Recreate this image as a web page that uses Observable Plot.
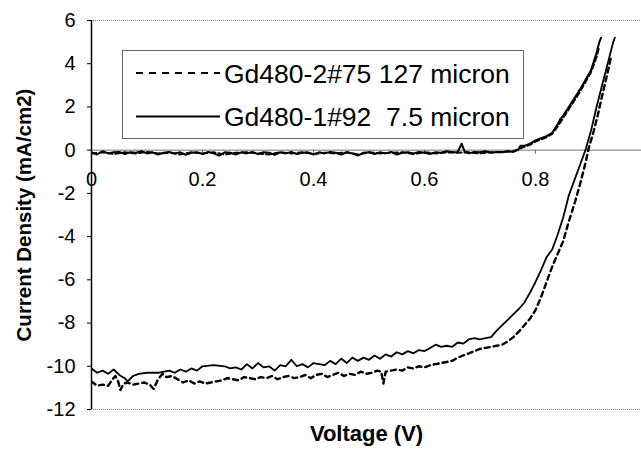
<!DOCTYPE html>
<html>
<head>
<meta charset="utf-8">
<script src="https://cdn.jsdelivr.net/npm/d3@7"></script>
<script src="https://cdn.jsdelivr.net/npm/@observablehq/plot@0.6"></script>
<style>
  html, body { margin: 0; padding: 0; background: #fff; }
  #wrap { position: relative; width: 641px; height: 453px; font-family: "Liberation Sans", Arial, sans-serif; }
  #legend { position: absolute; left: 122px; top: 50px; width: 400px; height: 87px; border: 1px solid #666; background: #fff; }
  #legend svg { position: absolute; left: 0; top: 0; }
</style>
</head>
<body>
<div id="wrap"><div id="legend"></div></div>
<script>
// Series names (legend)
const seriesNames = ["Gd480-2#75 127 micron", "Gd480-1#92  7.5 micron"];
const xTickValues = [0, 0.2, 0.4, 0.6, 0.8];
const xTickLabels = ["0", "0.2", "0.4", "0.6", "0.8"];
const yTickValues = [-12, -10, -8, -6, -4, -2, 0, 2, 4, 6];
const xLabel = "Voltage (V)";
const yLabel = "Current Density (mA/cm2)";

// 127 micron sample, illuminated [V, mA/cm2]
const light127 = [[0,-10.7],[0.01,-10.9],[0.02,-10.85],[0.03,-10.9],[0.038,-10.6],[0.043,-10.45],[0.048,-10.7],[0.052,-11.1],[0.058,-10.8],[0.065,-10.75],[0.075,-10.85],[0.085,-10.8],[0.095,-10.75],[0.105,-10.85],[0.112,-11.05],[0.12,-10.6],[0.128,-10.35],[0.135,-10.5],[0.145,-10.45],[0.155,-10.6],[0.165,-10.75],[0.175,-10.65],[0.185,-10.8],[0.195,-10.7],[0.205,-10.8],[0.215,-10.75],[0.225,-10.7],[0.235,-10.65],[0.245,-10.55],[0.255,-10.6],[0.265,-10.65],[0.275,-10.5],[0.285,-10.55],[0.295,-10.6],[0.305,-10.5],[0.315,-10.55],[0.325,-10.45],[0.335,-10.6],[0.345,-10.5],[0.355,-10.45],[0.365,-10.55],[0.375,-10.5],[0.385,-10.4],[0.395,-10.55],[0.405,-10.4],[0.415,-10.35],[0.425,-10.5],[0.435,-10.4],[0.445,-10.3],[0.455,-10.45],[0.465,-10.35],[0.475,-10.4],[0.485,-10.25],[0.495,-10.35],[0.505,-10.3],[0.515,-10.2],[0.522,-10.25],[0.526,-10.8],[0.53,-10.25],[0.54,-10.2],[0.55,-10.15],[0.56,-10.2],[0.57,-10.05],[0.58,-10.1],[0.59,-10.0],[0.6,-10.05],[0.61,-9.95],[0.62,-9.9],[0.63,-9.85],[0.64,-9.8],[0.65,-9.75],[0.66,-9.6],[0.67,-9.5],[0.68,-9.4],[0.69,-9.3],[0.7,-9.2],[0.71,-9.15],[0.72,-9.1],[0.73,-9.05],[0.74,-9.0],[0.75,-8.85],[0.76,-8.65],[0.77,-8.4],[0.78,-8.1],[0.79,-7.8],[0.8,-7.4],[0.81,-6.8],[0.82,-6.1],[0.83,-5.4],[0.84,-4.8],[0.85,-4.2],[0.86,-3.3],[0.87,-2.5],[0.88,-1.6],[0.89,-0.6],[0.895,0.0],[0.905,0.9],[0.912,1.6],[0.92,2.5],[0.93,3.6],[0.936,4.3]];

// 7.5 micron sample, illuminated [V, mA/cm2]
const light75 = [[0,-10.1],[0.01,-10.3],[0.02,-10.2],[0.03,-10.35],[0.04,-10.15],[0.05,-10.4],[0.06,-10.55],[0.065,-10.7],[0.075,-10.45],[0.085,-10.35],[0.1,-10.3],[0.12,-10.3],[0.14,-10.2],[0.15,-10.3],[0.16,-10.15],[0.17,-10.25],[0.18,-10.1],[0.19,-10.2],[0.2,-10.0],[0.22,-9.95],[0.24,-10.0],[0.25,-10.1],[0.26,-10.05],[0.27,-10.15],[0.28,-9.9],[0.29,-10.1],[0.3,-9.85],[0.31,-10.05],[0.32,-10.0],[0.33,-10.2],[0.34,-9.95],[0.35,-10.0],[0.36,-9.7],[0.37,-10.0],[0.38,-9.9],[0.39,-10.05],[0.4,-9.85],[0.41,-9.9],[0.42,-9.95],[0.43,-9.75],[0.44,-9.9],[0.45,-9.65],[0.46,-9.85],[0.47,-9.6],[0.48,-9.75],[0.49,-9.6],[0.5,-9.7],[0.51,-9.5],[0.52,-9.65],[0.53,-9.45],[0.54,-9.55],[0.55,-9.35],[0.56,-9.45],[0.57,-9.3],[0.58,-9.4],[0.59,-9.25],[0.6,-9.3],[0.61,-9.15],[0.62,-9.0],[0.63,-9.1],[0.64,-9.05],[0.65,-9.1],[0.66,-8.9],[0.67,-8.95],[0.68,-8.75],[0.69,-8.7],[0.7,-8.75],[0.71,-8.7],[0.72,-8.65],[0.73,-8.35],[0.74,-8.1],[0.75,-7.85],[0.76,-7.6],[0.77,-7.35],[0.78,-7.05],[0.79,-6.6],[0.8,-6.1],[0.81,-5.55],[0.82,-4.95],[0.83,-4.6],[0.84,-3.9],[0.85,-3.1],[0.86,-2.1],[0.87,-1.4],[0.88,-0.7],[0.89,0.0],[0.9,0.9],[0.91,2.0],[0.92,3.0],[0.93,4.0],[0.94,5.0],[0.943,5.2]];

// dark curves [V, mA/cm2]
const dark75 = [[0,-0.1],[0.01,-0.2],[0.02,-0.05],[0.03,-0.15],[0.04,-0.1],[0.05,-0.08],[0.06,-0.18],[0.07,-0.1],[0.08,-0.12],[0.09,-0.05],[0.1,-0.15],[0.11,-0.1],[0.12,-0.2],[0.13,-0.12],[0.14,-0.08],[0.15,-0.15],[0.16,-0.1],[0.17,-0.22],[0.18,-0.12],[0.19,-0.1],[0.2,-0.18],[0.21,-0.08],[0.22,-0.15],[0.23,-0.25],[0.24,-0.1],[0.25,-0.12],[0.26,-0.2],[0.27,-0.1],[0.28,-0.15],[0.29,-0.08],[0.3,-0.18],[0.31,-0.1],[0.32,-0.12],[0.33,-0.22],[0.34,-0.1],[0.35,-0.15],[0.36,-0.08],[0.37,-0.18],[0.38,-0.12],[0.39,-0.1],[0.4,-0.2],[0.41,-0.1],[0.42,-0.15],[0.43,-0.08],[0.44,-0.12],[0.45,-0.2],[0.46,-0.1],[0.47,-0.15],[0.48,-0.25],[0.49,-0.12],[0.5,-0.1],[0.51,-0.18],[0.52,-0.1],[0.53,-0.15],[0.54,-0.08],[0.55,-0.2],[0.56,-0.12],[0.57,-0.1],[0.58,-0.15],[0.59,-0.08],[0.6,-0.12],[0.61,-0.18],[0.62,-0.1],[0.63,-0.12],[0.64,-0.05],[0.65,-0.1],[0.66,-0.08],[0.667,0.3],[0.672,-0.05],[0.68,-0.15],[0.69,-0.08],[0.7,-0.1],[0.71,-0.05],[0.72,-0.12],[0.73,-0.08],[0.74,-0.1],[0.75,-0.05],[0.76,-0.08],[0.768,0.0],[0.773,0.2],[0.78,0.2],[0.79,0.3],[0.8,0.45],[0.81,0.55],[0.82,0.65],[0.83,0.8],[0.835,1.0],[0.84,1.2],[0.845,1.45],[0.85,1.6],[0.86,2.0],[0.87,2.4],[0.88,2.8],[0.89,3.25],[0.9,3.7],[0.905,4.1],[0.91,4.5],[0.915,5.0],[0.918,5.2]];
const dark127 = [[0,-0.15],[0.02,-0.1],[0.04,-0.18],[0.06,-0.1],[0.08,-0.15],[0.1,-0.08],[0.12,-0.15],[0.14,-0.12],[0.16,-0.2],[0.18,-0.1],[0.2,-0.15],[0.22,-0.1],[0.24,-0.2],[0.26,-0.12],[0.28,-0.1],[0.3,-0.15],[0.32,-0.2],[0.34,-0.1],[0.36,-0.15],[0.38,-0.1],[0.4,-0.18],[0.42,-0.12],[0.44,-0.15],[0.46,-0.1],[0.48,-0.2],[0.5,-0.1],[0.52,-0.15],[0.54,-0.12],[0.56,-0.1],[0.58,-0.18],[0.6,-0.1],[0.62,-0.15],[0.64,-0.1],[0.66,-0.12],[0.68,-0.1],[0.7,-0.15],[0.72,-0.1],[0.74,-0.08],[0.76,-0.05],[0.77,0.05],[0.78,0.15],[0.79,0.25],[0.8,0.4],[0.81,0.5],[0.82,0.6],[0.83,0.75],[0.84,1.1],[0.85,1.5],[0.86,1.9],[0.87,2.3],[0.88,2.7],[0.89,3.15],[0.9,3.6],[0.91,4.3],[0.915,4.8]];

const font = '"Liberation Sans", Arial, sans-serif';

const chart = Plot.plot({
  width: 641,
  height: 453,
  marginLeft: 91,
  marginRight: 0,
  marginTop: 20,
  marginBottom: 44,
  style: { fontFamily: font, background: "white", overflow: "visible" },
  x: { domain: [0, 0.991] },
  y: { domain: [-12, 6] },
  marks: [
    Plot.ruleY([6, -12], { stroke: "#888", strokeWidth: 1.2, strokeDasharray: "1,1" }),
    Plot.ruleY([0], { stroke: "#777", strokeWidth: 1 }),
    Plot.ruleX(xTickValues, { x: d => d, y1: 0, y2: 0, insetBottom: -4, stroke: "#777" }),
    Plot.axisY({ ticks: yTickValues, tickSize: 4, tickPadding: 12, fontSize: 20, label: null, tickFormat: d => String(d).replace("−", "-"), stroke: "black" }),
    Plot.axisX({ ticks: [], label: null, tickSize: 0 }),
    Plot.ruleX([0], { stroke: "black", strokeWidth: 1.5 }),
    Plot.line(dark75, { x: d => d[0], y: d => d[1], stroke: "black", strokeWidth: 2, clip: true }),
    Plot.line(dark127, { x: d => d[0], y: d => d[1], stroke: "black", strokeWidth: 2, strokeDasharray: "5,3", clip: true }),
    Plot.line(light75, { x: d => d[0], y: d => d[1], stroke: "black", strokeWidth: 1.8, clip: true }),
    Plot.line(light127, { x: d => d[0], y: d => d[1], stroke: "black", strokeWidth: 2.4, strokeDasharray: "5,4", clip: true }),
    Plot.text(xTickValues, { x: d => d, y: 0, dy: 29, text: (d, i) => xTickLabels[i], fontSize: 20, fill: "black" }),
    Plot.text([xLabel], { frameAnchor: "bottom", dy: 31, fontSize: 22, fontWeight: "bold", fill: "black" }),
    Plot.text([yLabel], { frameAnchor: "left", textAnchor: "middle", dx: -67, rotate: -90, fontSize: 20.5, fontWeight: "bold", fill: "black" })
  ]
});
document.getElementById("wrap").prepend(chart);

// Legend overlay
const lg = d3.select("#legend").append("svg").attr("width", 400).attr("height", 87);
const rows = [{ name: seriesNames[0], dash: "7,6", w: 2.2 }, { name: seriesNames[1], dash: null, w: 2 }];
rows.forEach((r, i) => {
  const cy = 22 + i * 43.5;
  lg.append("line").attr("x1", 13).attr("x2", 97).attr("y1", cy).attr("y2", cy)
    .attr("stroke", "black").attr("stroke-width", r.w).attr("stroke-dasharray", r.dash);
  lg.append("text").attr("x", 101).attr("y", cy).attr("dy", "0.36em")
    .attr("font-family", font).attr("font-size", 26.5).style("white-space", "pre")
    .attr("xml:space", "preserve").text(r.name);
});
</script>
</body>
</html>
